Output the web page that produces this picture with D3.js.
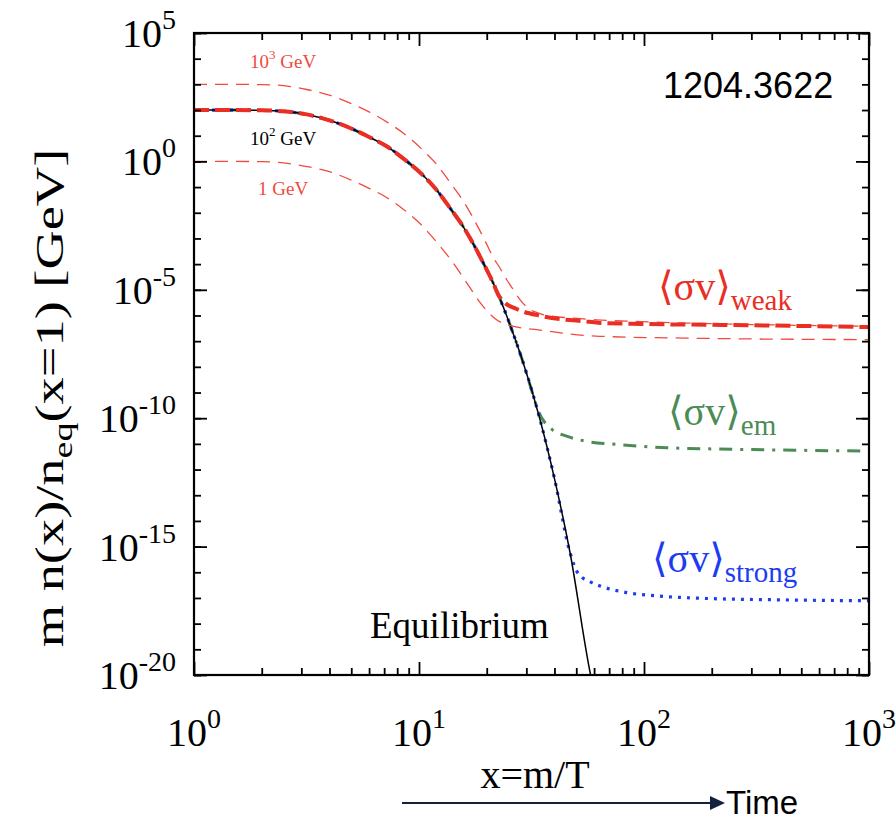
<!DOCTYPE html>
<html><head><meta charset="utf-8">
<script src="https://cdn.jsdelivr.net/npm/d3@7"></script>
<style>body{margin:0;background:#fff} svg{display:block}</style>
</head><body><svg id="c" width="896" height="823"></svg>
<script>
// ---- data (y values given as log10 exponents) ----
const xTickValues = [1, 10, 100, 1000];
const xTickExp = ["0", "1", "2", "3"];
const yTickValues = [1e5, 1e0, 1e-5, 1e-10, 1e-15, 1e-20];
const yTickExp = ["5", "0", "-5", "-10", "-15", "-20"];

// equilibrium curve (m = 100 GeV)
const eqX = [1, 1.5, 2, 2.5, 3.17, 4.0, 5.0, 6.0, 7.3, 8.67, 10.45, 12.0, 13.74, 15.74, 17.4, 19.6, 21.4, 24.5, 26.7, 28.6, 34.5, 40, 46.9, 57.9, 61];
const eqE = [2.0, 2.0, 1.99, 1.95, 1.83, 1.60, 1.28, 0.95, 0.55, 0.06, -0.55, -1.12, -1.82, -2.55, -3.2, -4.07, -4.75, -6.0, -6.9, -7.66, -10.05, -12.35, -15.23, -20.0, -20.9];

// <σv>_weak, m = 100 GeV (thick dashed)
const weakX = [1, 1.5, 2, 2.5, 3.17, 4.0, 5.0, 6.0, 7.3, 8.67, 10.45, 12.0, 13.74, 15.74, 17.4, 19.6, 21.4, 22.5, 23.7, 27.2, 34.5, 43.8, 55.6, 63.7, 100, 300, 1000];
const weakE = [2.0, 2.0, 1.99, 1.95, 1.83, 1.60, 1.28, 0.95, 0.55, 0.06, -0.55, -1.12, -1.82, -2.55, -3.2, -4.07, -4.75, -5.19, -5.45, -5.75, -6.01, -6.16, -6.23, -6.29, -6.33, -6.38, -6.45];

// m = 10^3 GeV (thin dashed)
const tevX = [1, 1.5, 2, 2.5, 3.17, 4.0, 5.0, 6.0, 7.3, 8.67, 10.45, 12.0, 13.74, 15.74, 17.4, 19.6, 21.4, 22.9, 24.5, 26.3, 28.1, 30.2, 34.5, 41, 48.5, 61.6, 106, 1000];
const tevE = [3.0, 3.0, 2.99, 2.95, 2.8, 2.58, 2.25, 1.93, 1.5, 1.05, 0.42, -0.12, -0.82, -1.55, -2.2, -3.07, -3.75, -4.15, -4.6, -5.0, -5.38, -5.68, -5.93, -6.05, -6.1, -6.17, -6.25, -6.42];

// m = 1 GeV (thin dashed)
const gevX = [1, 1.5, 2, 2.5, 3.17, 4.0, 4.94, 6.0, 6.94, 8.51, 10.1, 12.0, 14.2, 15.2, 16.5, 18.7, 21.4, 23.5, 26.3, 34.5, 55.6, 63.7, 150, 1000];
const gevE = [0.0, 0.0, -0.01, -0.06, -0.2, -0.4, -0.71, -1.05, -1.33, -1.86, -2.42, -3.15, -3.96, -4.33, -4.8, -5.5, -6.07, -6.3, -6.42, -6.57, -6.78, -6.81, -6.88, -6.94];

// <σv>_em (dash-dot)
const emX = [1, 1.5, 2, 2.5, 3.17, 4.0, 5.0, 6.0, 7.3, 8.67, 10.45, 12.0, 13.74, 15.74, 17.4, 19.6, 21.4, 24.5, 26.7, 28.6, 31.5, 33.9, 38.9, 45.3, 54.7, 75.7, 126, 249, 493, 1000];
const emE = [2.0, 2.0, 1.99, 1.95, 1.83, 1.60, 1.28, 0.95, 0.55, 0.06, -0.55, -1.12, -1.82, -2.55, -3.2, -4.07, -4.75, -6.0, -6.9, -7.66, -8.85, -9.72, -10.43, -10.70, -10.89, -11.02, -11.15, -11.21, -11.25, -11.28];

// <σv>_strong (dotted)
const strongX = [1, 1.5, 2, 2.5, 3.17, 4.0, 5.0, 6.0, 7.3, 8.67, 10.45, 12.0, 13.74, 15.74, 17.4, 19.6, 21.4, 24.5, 26.7, 28.6, 34.5, 40, 46.9, 50.2, 53, 57, 63.7, 83.7, 114, 190, 376, 1000];
const strongE = [2.0, 2.0, 1.99, 1.95, 1.83, 1.60, 1.28, 0.95, 0.55, 0.06, -0.55, -1.12, -1.82, -2.55, -3.2, -4.07, -4.75, -6.0, -6.9, -7.66, -10.05, -12.35, -15.23, -15.95, -16.2, -16.35, -16.53, -16.79, -16.92, -17.02, -17.07, -17.11];

// ---- layout ----
const L = 194, R = 869, T = 33, B = 675;
const svg = d3.select("#c");
const x = d3.scaleLog().domain([1, 1000]).range([L, R]);
const y = d3.scaleLog().domain([1e-20, 1e5]).range([B, T]);

const serif = "'Liberation Serif','Times New Roman',Times,'DejaVu Serif',serif";
const sans = "'Liberation Sans',Arial,Helvetica,sans-serif";
const RED = "#ea2e24", RED2 = "#f04a3f", GREEN = "#4b8b56", BLUE = "#1d3cf2";

svg.append("defs").append("clipPath").attr("id", "clip")
  .append("rect").attr("x", L).attr("y", T).attr("width", R - L).attr("height", B - T);

const pts = (xs, es) => xs.map((v, i) => [v, Math.pow(10, es[i])]);
const line = d3.line().x(d => x(d[0])).y(d => y(d[1])).curve(d3.curveMonotoneX);

const g = svg.append("g").attr("clip-path", "url(#clip)");
g.append("path").attr("d", line(pts(emX, emE))).attr("fill", "none")
  .attr("stroke", GREEN).attr("stroke-width", 3).attr("stroke-dasharray", "13,8,3,8");
g.append("path").attr("d", line(pts(strongX, strongE))).attr("fill", "none")
  .attr("stroke", BLUE).attr("stroke-width", 3.2).attr("stroke-dasharray", "3,6");
g.append("path").attr("d", line(pts(eqX, eqE))).attr("fill", "none")
  .attr("stroke", "#000").attr("stroke-width", 1.5);
g.append("path").attr("d", line(pts(tevX, tevE))).attr("fill", "none")
  .attr("stroke", RED2).attr("stroke-width", 1.3).attr("stroke-dasharray", "13,8");
g.append("path").attr("d", line(pts(gevX, gevE))).attr("fill", "none")
  .attr("stroke", RED2).attr("stroke-width", 1.3).attr("stroke-dasharray", "13,8");
g.append("path").attr("d", line(pts(weakX, weakE))).attr("fill", "none")
  .attr("stroke", RED).attr("stroke-width", 4).attr("stroke-dasharray", "15,6");

// ---- axes (ticks inward) ----
const xMinor = x.ticks().filter(v => xTickValues.indexOf(v) < 0);
const yMinor = d3.range(-20, 6).map(k => Math.pow(10, k));
function axisStyle(sel) {
  sel.select(".domain").remove();
  sel.selectAll(".tick line").attr("stroke", "#000").attr("stroke-width", 1.8);
  sel.selectAll(".tick text").remove();
}
svg.append("g").attr("transform", `translate(0,${B})`).call(d3.axisBottom(x).tickValues(xMinor).tickSize(-7)).call(axisStyle);
svg.append("g").attr("transform", `translate(0,${B})`).call(d3.axisBottom(x).tickValues(xTickValues).tickSize(-13)).call(axisStyle);
svg.append("g").attr("transform", `translate(0,${T})`).call(d3.axisTop(x).tickValues(xMinor).tickSize(-7)).call(axisStyle);
svg.append("g").attr("transform", `translate(0,${T})`).call(d3.axisTop(x).tickValues(xTickValues).tickSize(-13)).call(axisStyle);
svg.append("g").attr("transform", `translate(${L},0)`).call(d3.axisLeft(y).tickValues(yMinor).tickSize(-7)).call(axisStyle);
svg.append("g").attr("transform", `translate(${L},0)`).call(d3.axisLeft(y).tickValues(yTickValues).tickSize(-13)).call(axisStyle);
svg.append("g").attr("transform", `translate(${R},0)`).call(d3.axisRight(y).tickValues(yMinor).tickSize(-7)).call(axisStyle);
svg.append("g").attr("transform", `translate(${R},0)`).call(d3.axisRight(y).tickValues(yTickValues).tickSize(-13)).call(axisStyle);

svg.append("rect").attr("x", L).attr("y", T).attr("width", R - L).attr("height", B - T)
  .attr("fill", "none").attr("stroke", "#000").attr("stroke-width", 2.2);

// tick labels
function powLabel(sel, base, exp, fs, sfs, rise) {
  sel.append("tspan").text(base).attr("font-size", fs);
  sel.append("tspan").text(exp).attr("font-size", sfs).attr("dy", -rise);
}
yTickValues.forEach((v, i) => {
  const t = svg.append("text").attr("x", 176).attr("y", y(v) + 14).attr("text-anchor", "end")
    .attr("font-family", serif).attr("fill", "#000");
  powLabel(t, "10", yTickExp[i], 40, 28, 18);
});
xTickValues.forEach((v, i) => {
  const t = svg.append("text").attr("x", x(v)).attr("y", 746).attr("text-anchor", "middle")
    .attr("font-family", serif).attr("fill", "#000");
  powLabel(t, "10", xTickExp[i], 40, 28, 18);
});

// axis titles
svg.append("text").attr("x", 535).attr("y", 788).attr("text-anchor", "middle")
  .attr("font-family", serif).attr("font-size", 40).text("x=m/T");

const yt = svg.append("text").attr("transform", "translate(63,398) rotate(-90) scale(1.36,1)")
  .attr("text-anchor", "middle").attr("font-family", serif).attr("font-size", 40);
yt.append("tspan").text("m n(x)/n");
yt.append("tspan").text("eq").attr("font-size", 28).attr("dy", 9);
yt.append("tspan").text("(x=1) [GeV]").attr("dy", -9);

// time arrow
svg.append("line").attr("x1", 402).attr("x2", 712).attr("y1", 803).attr("y2", 803)
  .attr("stroke", "#14213d").attr("stroke-width", 2);
svg.append("path").attr("d", "M710,796 L725,803 L710,810 Z").attr("fill", "#14213d");
svg.append("text").attr("x", 726).attr("y", 814).attr("font-family", sans)
  .attr("font-size", 33).attr("fill", "#000").text("Time");

// annotations
svg.append("text").attr("x", 663).attr("y", 98).attr("font-family", sans)
  .attr("font-size", 36).attr("fill", "#000").text("1204.3622");

function massLabel(xp, yp, base, exp, color) {
  const t = svg.append("text").attr("x", xp).attr("y", yp).attr("font-family", serif).attr("fill", color).attr("font-size", 19);
  t.append("tspan").text(base);
  if (exp) t.append("tspan").text(exp).attr("font-size", 13).attr("dy", -9);
  t.append("tspan").text(" GeV").attr("dy", exp ? 9 : 0);
}
massLabel(250, 68, "10", "3", RED2);
massLabel(250, 145, "10", "2", "#000");
massLabel(258, 195, "1", null, RED2);

svg.append("text").attr("x", 370).attr("y", 638).attr("font-family", serif)
  .attr("font-size", 37).attr("fill", "#000").text("Equilibrium");

function sigmaLabel(xp, yp, sub, color) {
  const t = svg.append("text").attr("x", xp).attr("y", yp).attr("font-family", serif).attr("fill", color).attr("font-size", 40);
  t.append("tspan").text("\u27E8\u03C3v\u27E9");
  t.append("tspan").text(sub).attr("font-size", 29).attr("dy", 10);
}
sigmaLabel(658, 300, "weak", RED);
sigmaLabel(668, 425, "em", GREEN);
sigmaLabel(652, 572, "strong", BLUE);
</script></body></html>
